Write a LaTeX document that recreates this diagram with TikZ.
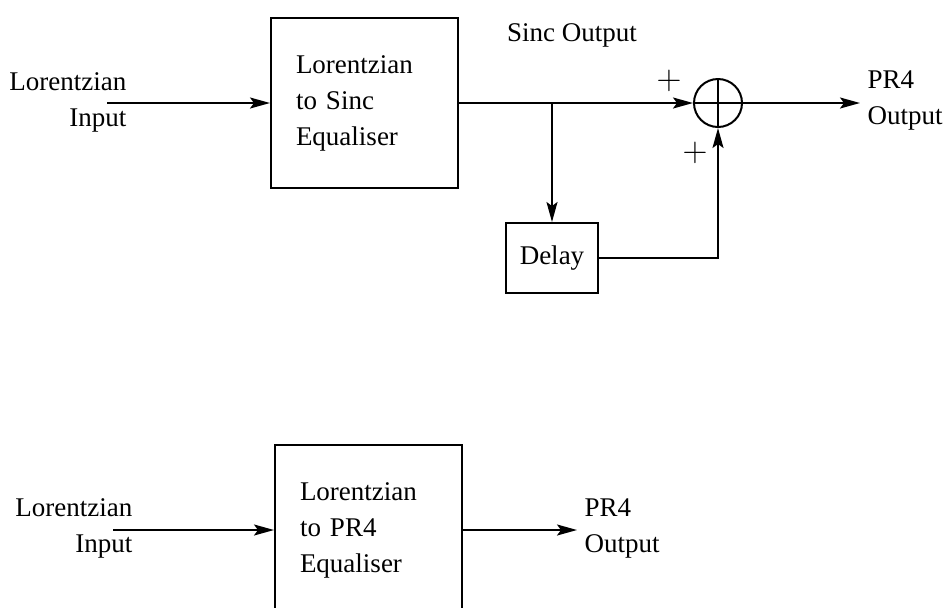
\documentclass[tikz,border=0pt]{standalone}
\usepackage{fontspec}
\setmainfont{Liberation Serif}
\usetikzlibrary{arrows.meta, positioning}

\begin{document}
\begin{tikzpicture}[x=0.5pt, y=-0.5pt, line width=1pt,
    >={Stealth[length=10pt, width=5.5pt, inset=2pt]},
    every node/.style={font=\fontsize{13.5}{18}\selectfont},
    eqbox/.style={draw, rectangle, text width=68.5pt, inner xsep=12.5pt, minimum height=85pt, align=left},
    delaybox/.style={draw, rectangle, minimum width=46pt, minimum height=35pt},
    sumnode/.style={draw, circle, minimum size=24pt, inner sep=0pt,
        path picture={\draw (path picture bounding box.north) -- (path picture bounding box.south)
                             (path picture bounding box.west) -- (path picture bounding box.east);}},
    sign/.style={font=\fontsize{19}{20}\selectfont, inner sep=0pt}]
    \useasboundingbox (0,0) rectangle (944,607);
    \clip (0,0) rectangle (944,607);

    % Upper chain: equaliser to sinc, then delay-and-add
    \node[align=right, anchor=east] (inAtxt) at (134,102) {Lorentzian\\Input};
    \coordinate (inA) at (107,103);
    \node[eqbox] (eqA) at (364.5,103) {Lorentzian\\to Sinc\\Equaliser};
    \node (sincout) at (572,35) {Sinc Output};
    \node[sumnode] (sum) at (718,103) {};
    \node[delaybox] (delay) at (552,258) {Delay};
    \coordinate (split) at (delay.north |- sum);
    \coordinate (outA) at (860,103);
    \node[align=left, anchor=west] (outAtxt) at (860,100) {PR4\\Output};
    \node[sign] (plusA) at (669,81) {$+$};
    \node[sign] (plusB) at (695,153) {$+$};

    \draw[->] (inA) -- (eqA.west);
    \draw[->] (eqA.east) -- (sum.west);
    \draw[->] (split) -- (delay.north);
    \draw[->] (delay.east) -| (sum.south);
    \draw[->] (sum.east) -- (outA);

    % Lower chain: direct equaliser to PR4
    \node[align=right, anchor=east] (inBtxt) at (140,528) {Lorentzian\\Input};
    \coordinate (inB) at (113,530);
    \node[eqbox] (eqB) at (368.5,530) {Lorentzian\\to PR4\\Equaliser};
    \coordinate (outB) at (577,530);
    \node[align=left, anchor=west] (outBtxt) at (577,528) {PR4\\Output};

    \draw[->] (inB) -- (eqB.west);
    \draw[->] (eqB.east) -- (outB);
\end{tikzpicture}
\end{document}
